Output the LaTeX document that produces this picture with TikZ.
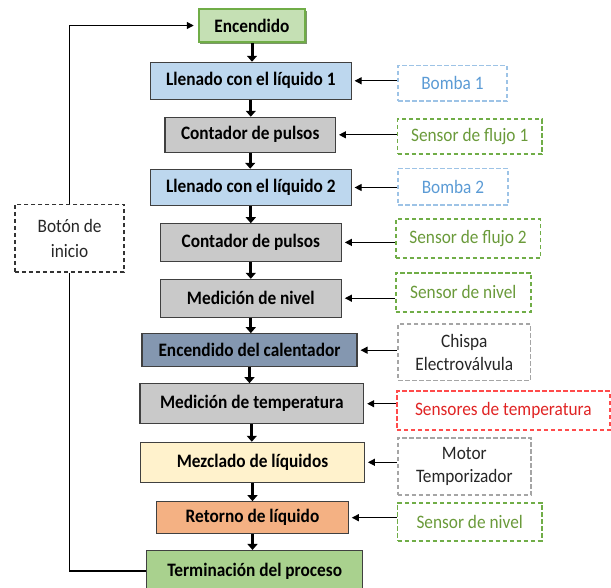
\documentclass[tikz,border=0pt]{standalone}
\usepackage{fontspec}
\setmainfont{Carlito}[FakeStretch=0.91]
\usetikzlibrary{arrows.meta,shadows}

\definecolor{encfill}{HTML}{C5E0B4}
\definecolor{encline}{HTML}{70AD47}
\definecolor{llfill}{HTML}{BDD7EE}
\definecolor{cpfill}{HTML}{C9C9C9}
\definecolor{calfill}{HTML}{8497B0}
\definecolor{mezfill}{HTML}{FFF2CC}
\definecolor{retfill}{HTML}{F4B183}
\definecolor{terfill}{HTML}{A9D18E}
\definecolor{bluedash}{HTML}{9DC3E6}
\definecolor{bluetext}{HTML}{5B9BD5}
\definecolor{greendash}{HTML}{70AD47}
\definecolor{greentext}{HTML}{6A9A3A}
\definecolor{graydash}{HTML}{A5A5A5}
\definecolor{reddash}{HTML}{FF4B4B}
\definecolor{redtext}{HTML}{E02424}

\begin{document}
\begin{tikzpicture}[x=1pt,y=-1pt,
  mainbox/.style={draw=black!75,line width=1.1pt,inner sep=0pt,
    font=\fontsize{19}{22}\selectfont\bfseries},
  sidebox/.style={draw,dash pattern=on 4.5pt off 2.5pt,line width=1.7pt,inner sep=0pt,
    align=center,font=\fontsize{19}{22.7}\selectfont},
  flowarrow/.style={line width=3pt,-{Triangle[length=6pt,width=10pt]}},
  sensarrow/.style={line width=1.2pt,-{Triangle[length=7pt,width=7pt]},shorten >=3pt}]
\useasboundingbox (0,0) rectangle (611,587);
\clip (0,0) rectangle (611,587);
% main process boxes
\node[mainbox,draw=encline,line width=1.8pt,fill=encfill,minimum width=106.7pt,minimum height=33pt,
  drop shadow={shadow xshift=1.8pt,shadow yshift=-1.8pt,fill=encline!60!black,opacity=0.7}] (enc) at (252,25.5) {Encendido};
\node[mainbox,fill=llfill,minimum width=200.5pt,minimum height=37pt] (ll1) at (250.8,80.8) {Llenado con el líquido 1};
\node[mainbox,fill=cpfill,minimum width=170.4pt,minimum height=35pt] (cp1) at (250.2,134.8) {Contador de pulsos};
\node[mainbox,fill=llfill,minimum width=200.5pt,minimum height=36.4pt] (ll2) at (250.8,187.5) {Llenado con el líquido 2};
\node[mainbox,fill=cpfill,minimum width=181pt,minimum height=37.3pt] (cp2) at (250.8,242.4) {Contador de pulsos};
\node[mainbox,fill=cpfill,minimum width=181pt,minimum height=37.7pt] (niv) at (250.8,298.2) {Medición de nivel};
\node[mainbox,fill=calfill,minimum width=215pt,minimum height=33pt] (cal) at (249.5,350.2) {Encendido del calentador};
\node[mainbox,fill=cpfill,minimum width=223.6pt,minimum height=40pt] (tem) at (251.8,403.7) {Medición de temperatura};
\node[mainbox,fill=mezfill,minimum width=223.7pt,minimum height=40pt] (mez) at (252.5,462.3) {Mezclado de líquidos};
\node[mainbox,fill=retfill,minimum width=191.5pt,minimum height=32pt] (ret) at (252.5,517.7) {Retorno de líquido};
\node[mainbox,fill=terfill,minimum width=216.2pt,minimum height=41pt] (ter) at (254.7,571) {Terminación del proceso};
% sensors and actuators
\node[sidebox,draw=bluedash,text=bluetext,minimum width=109pt,minimum height=35.7pt] (bomba1) at (452.5,83.2) {Bomba 1};
\node[sidebox,draw=greendash,text=greentext,minimum width=144.2pt,minimum height=35pt] (flujo1) at (469.7,136.8) {Sensor de flujo 1};
\node[sidebox,draw=bluedash,text=bluetext,minimum width=110pt,minimum height=36.7pt] (bomba2) at (453,186.7) {Bomba 2};
\node[sidebox,draw=greendash,text=greentext,minimum width=144.7pt,minimum height=39pt] (flujo2) at (468,238.8) {Sensor de flujo 2};
\node[sidebox,draw=greendash,text=greentext,minimum width=135.3pt,minimum height=39.3pt] (nivel1) at (463.3,292.4) {Sensor de nivel};
\node[sidebox,draw=graydash,text=black!85,minimum width=132.5pt,minimum height=56.3pt] (chispa) at (464.3,352.2) {Chispa\\Electroválvula};
\node[sidebox,draw=reddash,text=redtext,minimum width=213pt,minimum height=39pt] (stemp) at (503.3,410.5) {Sensores de temperatura};
\node[sidebox,draw=graydash,text=black!85,minimum width=133.3pt,minimum height=57.6pt] (motor) at (464.3,466.5) {Motor\\Temporizador};
\node[sidebox,draw=greendash,text=greentext,minimum width=144.2pt,minimum height=38pt] (nivel2) at (469.7,521.7) {Sensor de nivel};
\node[sidebox,draw=black!80,text=black!85,minimum width=109.4pt,minimum height=67.7pt,
  font=\fontsize{19}{25}\selectfont] (boton) at (69.6,238.2) {Botón de\\inicio};
% flow
\foreach \a/\b in {enc/ll1,ll1/cp1,cp1/ll2,ll2/cp2,cp2/niv,niv/cal,cal/tem,tem/mez,mez/ret,ret/ter}
  \draw[flowarrow] (\a.south) -- (\a.south |- \b.north);
\foreach \s/\m in {bomba1/ll1,flujo1/cp1,bomba2/ll2,flujo2/cp2,nivel1/niv,chispa/cal,stemp/tem,motor/mez,nivel2/ret}
  \draw[sensarrow] (\s.west |- \m.east) -- (\m.east);
% start loop
\draw[sensarrow,shorten >=4pt] (boton.north) |- (enc.west);
\draw[line width=1.2pt] (boton.south) |- (ter.west);
\end{tikzpicture}
\end{document}
